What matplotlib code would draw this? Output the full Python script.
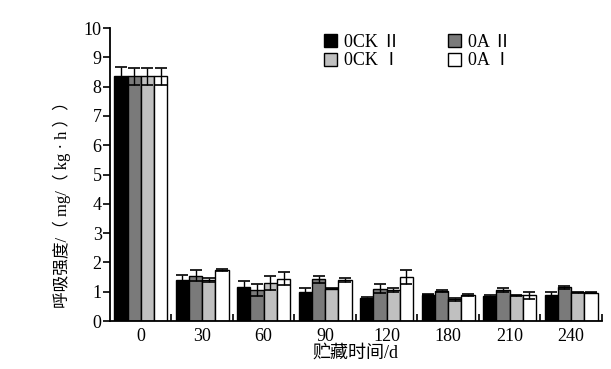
import numpy as np
import matplotlib
matplotlib.use('Agg')
import matplotlib.pyplot as plt
from matplotlib.ticker import FixedLocator

plt.rcParams['font.family'] = ['Liberation Serif', 'Noto Sans CJK SC']

days = ['0', '30', '60', '90', '120', '180', '210', '240']
series = ['0CK Ⅱ', '0A Ⅱ', '0CK Ⅰ', '0A Ⅰ']
colors = ['#000000', '#7a7a7a', '#c0c0c0', '#ffffff']

ck2 = [8.38, 1.39, 1.15, 1.00, 0.78, 0.90, 0.85, 0.90]
oa2 = [8.35, 1.55, 1.05, 1.42, 1.10, 1.02, 1.05, 1.15]
ck1 = [8.35, 1.40, 1.30, 1.10, 1.05, 0.75, 0.88, 0.98]
oa1 = [8.35, 1.75, 1.45, 1.40, 1.50, 0.90, 0.88, 0.97]
ck2_err = [0.30, 0.17, 0.23, 0.12, 0.03, 0.02, 0.03, 0.10]
oa2_err = [0.30, 0.18, 0.20, 0.13, 0.15, 0.03, 0.07, 0.05]
ck1_err = [0.30, 0.08, 0.25, 0.02, 0.07, 0.05, 0.02, 0.02]
oa1_err = [0.30, 0.03, 0.23, 0.07, 0.25, 0.03, 0.12, 0.03]

values = [ck2, oa2, ck1, oa1]
errors = [ck2_err, oa2_err, ck1_err, oa1_err]

fig = plt.figure(figsize=(6.11, 3.69), dpi=100)
ax = fig.add_axes([0.18, 0.13, 0.805, 0.794])

x = np.arange(len(days))
w = 0.215
handles = []
for i in range(4):
    pos = x + (i - 1.5) * w
    b = ax.bar(pos, values[i], w, color=colors[i], edgecolor='black', linewidth=1.0,
               yerr=errors[i], capsize=4.5,
               error_kw=dict(ecolor='black', elinewidth=1.0, capthick=1.2))
    handles.append(b)

ax.set_xlim(-0.5, len(days) - 0.5)
ax.set_ylim(0, 10)
ax.set_yticks(range(0, 11))
ax.set_xticks(x)
ax.set_xticklabels(days)
ax.xaxis.set_minor_locator(FixedLocator(np.arange(0.5, len(days), 1.0)))
ax.tick_params(axis='x', which='major', length=0, labelsize=13, pad=5)
ax.tick_params(axis='x', which='minor', direction='in', length=5, width=1.2)
ax.tick_params(axis='y', direction='out', length=5, width=1.2, labelsize=13, pad=1)
for s in ['top', 'right']:
    ax.spines[s].set_visible(False)
for s in ['left', 'bottom']:
    ax.spines[s].set_linewidth(1.3)

ax.set_ylabel('呼吸强度/（ mg/（ kg · h ））', fontsize=12)
ax.yaxis.set_label_coords(-0.08, 0.41)
ax.set_xlabel('贮藏时间/d', fontsize=13, labelpad=0)

order = [0, 2, 1, 3]
ax.legend([handles[k] for k in order], [series[k] for k in order], ncol=2,
          loc='upper right', bbox_to_anchor=(0.85, 1.035), frameon=False,
          fontsize=13, handlelength=0.75, handleheight=0.75, handletextpad=0.4,
          columnspacing=2.6, labelspacing=0.08)

fig.savefig('out.png', dpi=100)
